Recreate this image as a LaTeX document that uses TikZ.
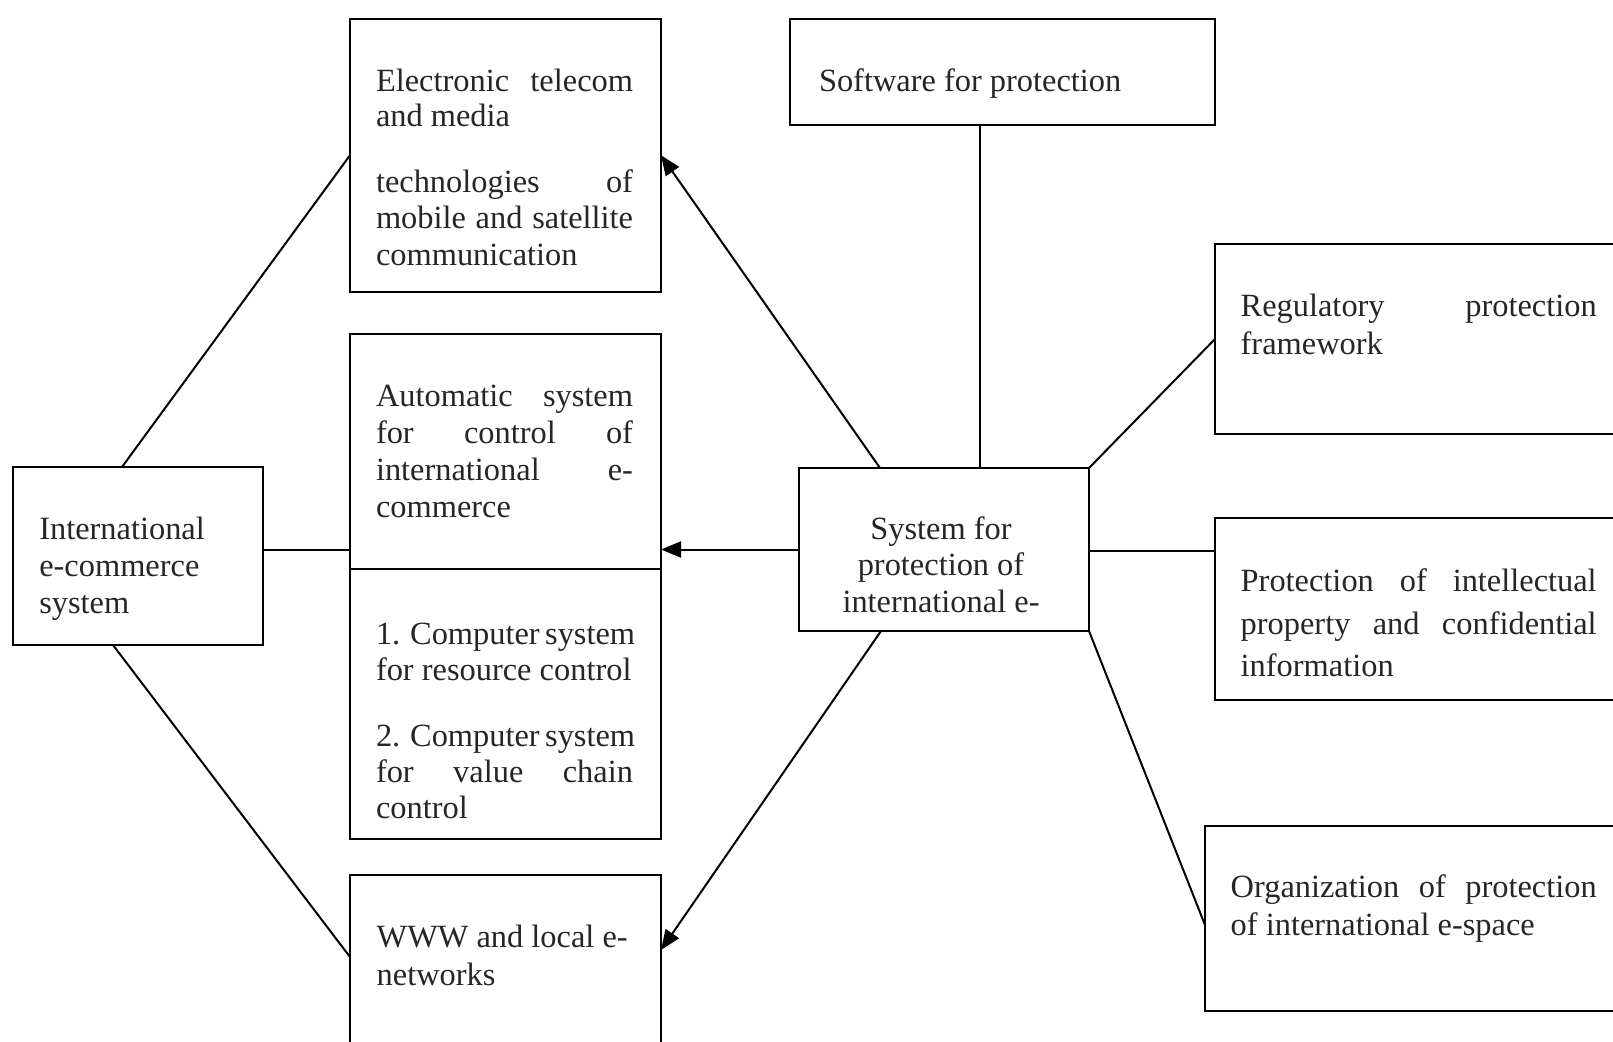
\documentclass[tikz,border=0pt]{standalone}
\usepackage{fontspec}
\setmainfont{Liberation Serif}
\usetikzlibrary{calc,fit,arrows.meta}
\newcommand{\jl}[1]{\makebox[\linewidth][s]{#1}}
\newcommand{\txtpar}[3]{\parbox[t]{#2}{\fontsize{16.2pt}{#1}\selectfont #3}}
\begin{document}
\begin{tikzpicture}[x=0.5pt,y=-0.5pt,
  box/.style={draw, line width=1pt, inner sep=0pt, outer sep=0pt},
  txt/.style={anchor=base west, inner sep=0pt, outer sep=0pt, text=black!85},
  ctxt/.style={anchor=base, inner sep=0pt, outer sep=0pt, text=black!85},
  link/.style={line width=1pt},
  arr/.style={line width=1pt, -{Triangle[length=10pt,width=8pt]}}]
\useasboundingbox (0,0) rectangle (1613,1041);
\clip (0,0) rectangle (1613,1041);
\fill[white] (0,0) rectangle (1613,1041);
% boxes
\node[box, fit={(13,467) (263,645)}] (intl) {};
\node[box, fit={(350,18.5) (661,292)}] (elec) {};
\node[box, fit={(350,334) (661,839)}] (auto) {};
\node[box, fit={(350,875) (661,1070)}] (www) {};
\node[box, fit={(790,18.5) (1215,125)}] (sw) {};
\node[box, fit={(799,468) (1089,631)}] (sys) {};
\node[box, fit={(1215,244) (1650,434)}] (reg) {};
\node[box, fit={(1215,518) (1650,700)}] (prot) {};
\node[box, fit={(1205,826) (1650,1011)}] (org) {};
% divider in automatic box
\draw[link] ($(auto.north west)+(0,235)$) -- ($(auto.north east)+(0,235)$);
% texts
\node[txt] (telecA) at (376,91.7) {\txtpar{17.5pt}{128.5pt}{\jl{Electronic telecom}\\and media}};
\node[txt] (telecB) at (376,192.7) {\txtpar{18.1pt}{128.5pt}{\jl{technologies of}\\\jl{mobile and satellite}\\communication}};
\node[txt] (tautoA) at (376,406) {\txtpar{18.6pt}{128.5pt}{\jl{Automatic system}\\\jl{for control of}\\\jl{international e-}\\commerce}};
\node[txt] (tautoB) at (376,644) {\txtpar{18pt}{128.5pt}{\jl{1. Computer system}\\for resource control}};
\node[txt] (tautoC) at (376,746) {\txtpar{18.1pt}{128.5pt}{\jl{2. Computer system}\\\jl{for value chain}\\control}};
\node[txt] (twww) at (376.7,947) {\txtpar{19.3pt}{128.5pt}{WWW and local e-\\networks}};
\node[txt] (tintl) at (39.3,539) {\txtpar{18.6pt}{110pt}{International\\e-commerce\\system}};
\node[txt] (tsw) at (819,91.7) {\txtpar{18pt}{180pt}{Software for protection}};
\node[ctxt] (tsys) at (941,539) {\txtpar{18.3pt}{140pt}{\centering System for\\protection of\\international e-}};
\node[txt] (treg) at (1240.7,316.7) {\txtpar{18.75pt}{178pt}{\jl{Regulatory protection}\\framework}};
\node[txt] (tprot) at (1240.7,591.7) {\txtpar{21.25pt}{178pt}{\jl{Protection of intellectual}\\\jl{property and confidential}\\information}};
\node[txt] (torg) at (1230.7,897) {\txtpar{19pt}{183pt}{\jl{Organization of protection}\\of international e-space}};
% connectors
\draw[link] ($(intl.north west)+(109,0)$) -- (elec.west);
\draw[link] ($(intl.south west)+(100,0)$) -- ($(www.north west)+(0,82)$);
\draw[link] ($(intl.north east)+(0,83)$) coordinate (ie) -- (ie -| auto.west);
\draw[arr] (sys.west) -- (sys.west -| auto.east);
\draw[arr] ($(sys.north west)+(81,0)$) -- (elec.east);
\draw[arr] ($(sys.south west)+(82,0)$) -- ($(www.north east)+(0,75)$);
\draw[link] ($(sw.south west)+(190,0)$) coordinate (swb) -- (swb |- sys.north);
\draw[link] (sys.north east) -- (reg.west);
\draw[link] ($(sys.north east)+(0,83)$) coordinate (se) -- (se -| prot.west);
\draw[link] (sys.south east) -- ($(org.north west)+(0,99)$);
\end{tikzpicture}
\end{document}
